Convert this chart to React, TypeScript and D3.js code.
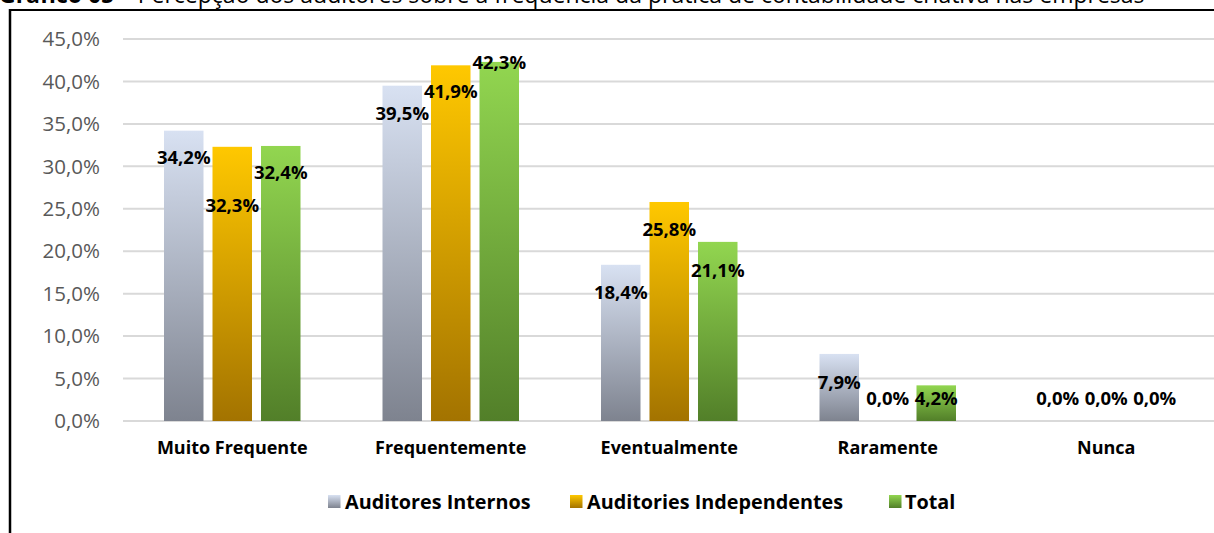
import React from "react";
import * as d3 from "d3";

const categories = ["Muito Frequente", "Frequentemente", "Eventualmente", "Raramente", "Nunca"];
const seriesNames = ["Auditores Internos", "Auditories Independentes", "Total"];
const internos = [34.2, 39.5, 18.4, 7.9, 0.0];
const independentes = [32.3, 41.9, 25.8, 0.0, 0.0];
const total = [32.4, 42.3, 21.1, 4.2, 0.0];
// where each data label's centre sits, in axis units
const labelAtInternos = [31.1, 36.3, 15.2, 4.6, 2.7];
const labelAtIndependentes = [25.4, 38.8, 22.6, 2.7, 2.7];
const labelAtTotal = [29.3, 42.3, 17.8, 2.7, 2.7];
const yTicks = [0, 5, 10, 15, 20, 25, 30, 35, 40, 45];
const titleBold = "Gráfico 05";
const titleRest = " – Percepção dos auditores sobre a frequência da prática de contabilidade criativa nas empresas";

const W = 1214;
const H = 533;
const FONT = "'Open Sans', 'DejaVu Sans', sans-serif";

const gradients = [
  { id: "g0", top: "#D8E1F2", bottom: "#7E838F" },
  { id: "g1", top: "#FFC800", bottom: "#A37300" },
  { id: "g2", top: "#92D650", bottom: "#527F29" },
];

const fmt = (v: number) => v.toFixed(1).replace(".", ",") + "%";

export default function App() {
  const x0 = d3.scaleBand<string>().domain(categories).range([123, 1215.5]).paddingInner(0).paddingOuter(0);
  const y = d3.scaleLinear().domain([0, 45]).range([421, 39]);
  const barW = 39.5;
  const step = 48.5;
  const values = [internos, independentes, total];
  const labelAt = [labelAtInternos, labelAtIndependentes, labelAtTotal];

  return (
    <svg width={W} height={H} style={{ position: "absolute", left: 0, top: 0, background: "#fff" }} fontFamily={FONT}>
      <defs>
        {gradients.map((g) => (
          <linearGradient key={g.id} id={g.id} x1="0" y1="0" x2="0" y2="1">
            <stop offset="0" stopColor={g.top} />
            <stop offset="1" stopColor={g.bottom} />
          </linearGradient>
        ))}
      </defs>
      <rect x={0} y={0} width={W} height={H} fill="#fff" />
      {/* title, clipped at the top edge as in the reference */}
      <text x={-1} y={3} fontSize={23} fill="#000">
        <tspan fontWeight="bold">{titleBold}</tspan>
        <tspan>{titleRest}</tspan>
      </text>
      {/* frame */}
      <line x1={9} x2={W} y1={10} y2={10} stroke="#000" strokeWidth={2} />
      <line x1={10} x2={10} y1={9} y2={H} stroke="#000" strokeWidth={2.5} />

      {/* gridlines */}
      {yTicks.map((t) => (
        <line key={t} x1={123} x2={W} y1={y(t)} y2={y(t)} stroke="#D9D9D9" strokeWidth={2} />
      ))}
      {yTicks.map((t) => (
        <text key={"l" + t} x={100} y={y(t)} dy="0.35em" textAnchor="end" fontSize={20.5} fill="#595959">
          {fmt(t)}
        </text>
      ))}

      {/* bars */}
      {categories.map((c, ci) => {
        const cx = (x0(c) as number) + x0.bandwidth() / 2;
        return (
          <g key={c}>
            {values.map((vals, si) => {
              const bx = cx + (si - 1) * step - barW / 2;
              const v = vals[ci];
              if (v <= 0) return null;
              return (
                <rect key={si} x={bx} y={y(v)} width={barW} height={y(0) - y(v)} fill={`url(#${gradients[si].id})`} />
              );
            })}
          </g>
        );
      })}

      {/* data labels */}
      {categories.map((c, ci) => {
        const cx = (x0(c) as number) + x0.bandwidth() / 2;
        return (
          <g key={"dl" + c}>
            {values.map((vals, si) => (
              <text
                key={si}
                x={cx + (si - 1) * step}
                y={y(labelAt[si][ci])}
                dy="0.36em"
                textAnchor="middle"
                fontSize={18.5}
                fontWeight="bold"
                fill="#000"
              >
                {fmt(vals[ci])}
              </text>
            ))}
          </g>
        );
      })}

      {/* category labels */}
      {categories.map((c) => (
        <text
          key={"c" + c}
          x={(x0(c) as number) + x0.bandwidth() / 2}
          y={448}
          dy="0.36em"
          textAnchor="middle"
          fontSize={18}
          fontWeight="bold"
          fill="#000"
        >
          {c}
        </text>
      ))}

      {/* legend */}
      {[
        { sq: 328, tx: 345 },
        { sq: 570, tx: 587 },
        { sq: 889, tx: 905 },
      ].map((p, i) => (
        <g key={"lg" + i}>
          <rect x={p.sq} y={495} width={12.5} height={13} fill={`url(#${gradients[i].id})`} />
          <text x={p.tx} y={501.5} dy="0.36em" fontSize={19.8} fontWeight="bold" fill="#000">
            {seriesNames[i]}
          </text>
        </g>
      ))}
    </svg>
  );
}
